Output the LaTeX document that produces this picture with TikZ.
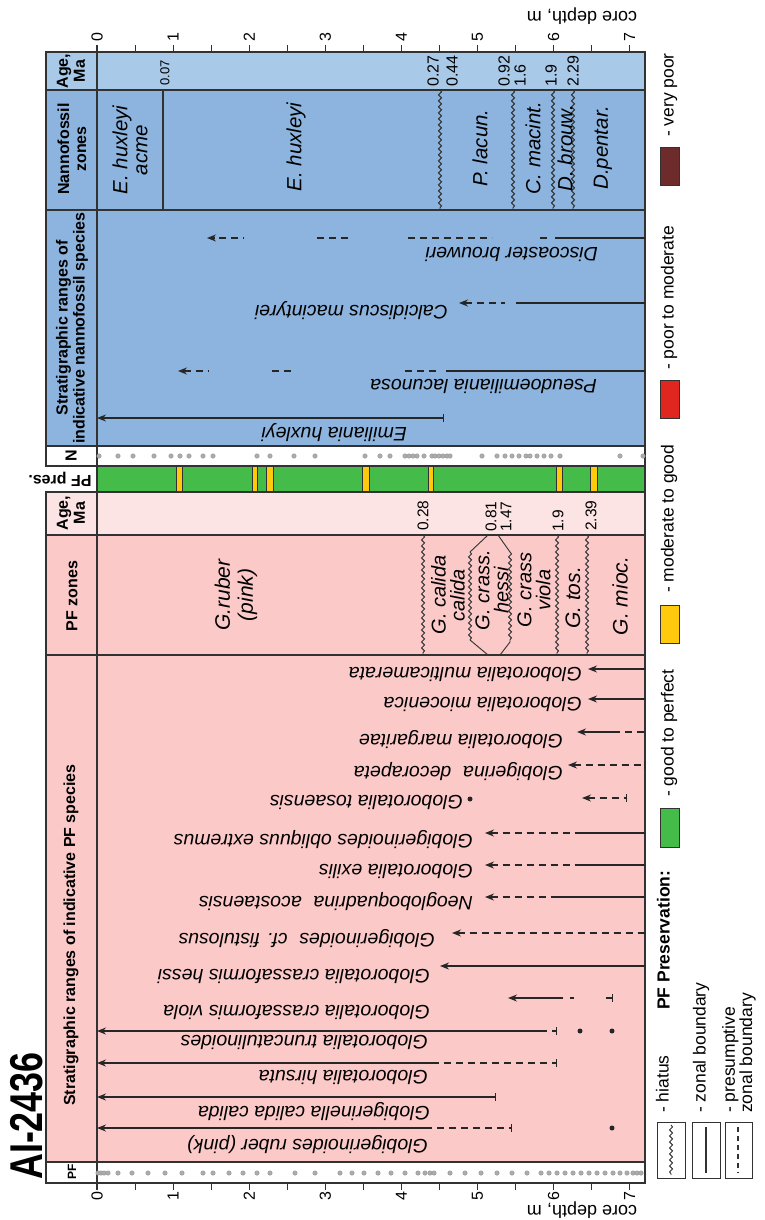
\documentclass[tikz,border=0pt]{standalone}
\usepackage{fontspec}
\setmainfont{Liberation Sans}
\usepackage{graphicx}
\usetikzlibrary{arrows.meta,decorations.pathmorphing}
\definecolor{nanAge}{RGB}{169,201,233}
\definecolor{nanZone}{RGB}{140,180,222}
\definecolor{pfAge}{RGB}{253,228,228}
\definecolor{pfZone}{RGB}{252,201,201}
\definecolor{presGood}{RGB}{69,188,74}
\definecolor{presMod}{RGB}{255,201,14}
\definecolor{presPoor}{RGB}{224,38,30}
\definecolor{presVery}{RGB}{110,43,43}
\definecolor{frame}{RGB}{50,50,50}
\begin{document}
\begin{tikzpicture}
[
x=1pt, y=-1pt,
frm/.style={draw=frame, line width=1.1pt},
rng/.style={draw=black!85, line width=1.3pt},
prs/.style={rng, dash pattern=on 7pt off 5pt},
tip/.style={{Stealth[length=9pt,width=7pt]}-},
bar/.style={-{Bar[width=8pt]}},
tipbar/.style={{Stealth[length=9pt,width=7pt]}-{Bar[width=8pt]}},
hiat/.style={draw=frame, line width=0.9pt, decorate, decoration={snake, amplitude=1.5pt, segment length=6pt}},
hdr/.style={rotate=90, align=center, inner sep=0pt, font=\bfseries\fontsize{16}{17}\selectfont},
spec/.style={rotate=180, anchor=mid west, inner sep=0pt, font=\itshape\fontsize{19.5}{20}\selectfont},
zone/.style={rotate=90, align=center, inner sep=0pt, font=\itshape\fontsize{20.5}{20}\selectfont},
age/.style={rotate=90, anchor=west, inner sep=0pt, font=\fontsize{16}{16}\selectfont},
leg/.style={rotate=90, anchor=mid west, inner sep=0pt, font=\fontsize{17.5}{15}\selectfont},
depth/.style={rotate=90, inner sep=0pt, font=\fontsize{16}{16}\selectfont},
pfdot/.style={circle, fill=gray!65, draw=gray!85, line width=0.4pt, inner sep=0pt, minimum size=4.5pt},
fdot/.style={circle, fill=black!85, inner sep=0pt, minimum size=5pt}
]
\useasboundingbox (0,0) rectangle (765,1220);

%Backgrounds
\fill[nanAge]   (46,52)  rectangle (645,90);
\fill[nanZone]  (46,90)  rectangle (645,446);
\fill[presGood] (97,466) rectangle (645,492);
\fill[pfAge]    (46,492) rectangle (645,535);
\fill[pfZone]   (46,535) rectangle (645,1162);
\foreach \a/\b in {176/182, 252/257, 266/273, 362/369, 428/433, 556/562, 590/597}
  \draw[draw=frame, line width=0.6pt, fill=presMod] (\a,466) rectangle (\b,492);

%Frame
\draw[frm] (46,52) rectangle (645,466);
\draw[frm] (46,90) -- (645,90) (46,210) -- (645,210) (46,446) -- (645,446);
\draw[frm] (97,466) rectangle (645,492);
\draw[frm] (46,492) rectangle (645,1183);
\draw[frm] (46,535) -- (645,535) (46,655) -- (645,655) (46,1162) -- (645,1162);
\draw[frm] (97,52) -- (97,1183);

%Depth axes
\foreach \i in {0,...,14} {
  \draw[frm] ({97+38.05*\i},45) -- ({97+38.05*\i},52);
  \draw[frm] ({97+38.05*\i},1183) -- ({97+38.05*\i},1190);
}
\foreach \d in {0,...,7} {
  \node[depth] (dtop\d) at ({97+76.1*\d},37)   {\d};
  \node[depth] (dbot\d) at ({97+76.1*\d},1196) {\d};
}
\node[rotate=180, font=\fontsize{18}{18}\selectfont] (cdtop) at (582,16)   {core depth, m};
\node[rotate=180, font=\fontsize{18}{18}\selectfont] (cdbot) at (582,1210) {core depth, m};

%Headers
\node[rotate=90, font=\bfseries\fontsize{46}{46}\selectfont] (title) at (27,1116) {\scalebox{0.78}[1]{AI-2436}};
\node[hdr] (hnage)  at (71,71)  {Age,\\Ma};
\node[hdr] (hnzone) at (72,149) {Nannofossil\\zones};
\node[hdr] (hnrng)  at (72,328) {Stratigraphic ranges of\\indicative nannofossil species};
\node[hdr] (hn)     at (71,456) {N};
\node[rotate=180, inner sep=0pt, font=\bfseries\fontsize{16}{16}\selectfont] (hpres) at (60,479) {PF pres.};
\node[hdr] (hpage)  at (71,513) {Age,\\Ma};
\node[hdr] (hpzone) at (72,596) {PF zones};
\node[hdr] (hprng)  at (71,935) {Stratigraphic ranges of indicative PF species};
\node[hdr, font=\bfseries\fontsize{12}{12}\selectfont] (hpf) at (72,1172) {PF};

%Dots
\foreach \x in {99,118,133,154,171,180,189,203,213,257,270,294,315,365,380,390,405,409,413,417,424,432,435,439,443,447,450,482,497,505,512,519,526,530,537,544,551,560,620,643}
  \node[pfdot] (n\x) at (\x,456) {};
\foreach \x in {98,101,104,108,118,132,148,165,182,203,213,229,243,257,270,295,315,340,352,364,378,391,405,418,425,430,434,450,465,481,497,512,527,541,549,557,565,573,581,589,597,605,613,620,627,633,637,641}
  \node[pfdot] (p\x) at (\x,1173) {};

%Nannofossil zones and ages
\draw[frm] (163,90) -- (163,210);
\draw[hiat] (440,90) -- (440,210);
\draw[hiat] (513,90) -- (513,210);
\draw[hiat] (553,90) -- (553,210);
\draw[hiat] (573,90) -- (573,210);
\node[zone] (zacme) at (130,150) {E. huxleyi\\acme};
\node[zone] (zhux)  at (296,147) {E. huxleyi};
\node[zone] (zlac)  at (480,148) {P. lacun.};
\node[zone] (zmac)  at (533,148) {C. macint.};
\node[zone] (zbro)  at (565,148) {D. brouw.};
\node[zone] (zpen)  at (603,148) {D.pentar.};
\node[age, font=\fontsize{13}{13}\selectfont] (a007) at (165,86) {0.07};
\node[age] (a027) at (433,87) {0.27};
\node[age] (a044) at (452,87) {0.44};
\node[age] (a092) at (504,87) {0.92};
\node[age] (a16)  at (520,87) {1.6};
\node[age] (a19)  at (551,87) {1.9};
\node[age] (a229) at (573,87) {2.29};

%Nannofossil ranges
\draw[rng,tip] (207,238) -- (215,238);
\draw[prs] (219,238) -- (244,238);
\draw[prs] (317,238) -- (351,238);
\draw[prs] (408,238) -- (492,238);
\draw[prs] (540,238) -- (552,238);
\draw[rng] (555,238) -- (645,238);
\node[spec] (sbro) at (598,250) {Discoaster brouweri};
\draw[prs,tip] (459,303) -- (505,303);
\draw[rng] (516,303) -- (645,303);
\node[spec] (smac) at (448,308) {Calcidiscus macintyrei};
\draw[prs,tip] (178,371) -- (208,371);
\draw[prs] (272,371) -- (292,371);
\draw[prs] (405,371) -- (440,371);
\draw[rng] (446,371) -- (645,371);
\node[spec] (slac) at (597,382) {Pseudoemiliania lacunosa};
\draw[rng,tipbar] (97,418) -- (444,418);
\node[spec] (shux) at (407,430) {Emiliania huxleyi};

%PF zones and ages
\draw[hiat] (423,535) -- (423,655);
\draw[hiat] (470,552) -- (470,640);
\draw[frm, line width=0.9pt] (488,535) -- (470,552) (470,640) -- (488,655);
\draw[hiat] (510,552) -- (510,642);
\draw[frm, line width=0.9pt] (498,535) -- (510,552) (510,642) -- (500,655);
\draw[hiat] (557,535) -- (557,655);
\draw[hiat] (587,535) -- (587,655);
\node[zone, font=\itshape\fontsize{21}{23}\selectfont] (zrub) at (236,595) {G.ruber\\(pink)};
\node[zone, font=\itshape\fontsize{20}{19}\selectfont] (zcal) at (448,595) {G. calida\\calida};
\node[zone, font=\itshape\fontsize{20}{19}\selectfont] (zhes) at (492,590) {G. crass.\\hessi};
\node[zone, font=\itshape\fontsize{20}{19}\selectfont] (zvio) at (534,590) {G. crass\\viola};
\node[zone, font=\itshape\fontsize{21}{20}\selectfont] (ztos) at (573,598) {G. tos.};
\node[zone, font=\itshape\fontsize{21}{20}\selectfont] (zmio) at (620,596) {G. mioc.};
\node[age, font=\fontsize{15.5}{15.5}\selectfont] (b028) at (423,531) {0.28};
\node[age, font=\fontsize{15.5}{15.5}\selectfont] (b081) at (491,532) {0.81};
\node[age, font=\fontsize{15.5}{15.5}\selectfont] (b147) at (506,532) {1.47};
\node[age, font=\fontsize{15.5}{15.5}\selectfont] (b19)  at (558,532) {1.9};
\node[age, font=\fontsize{15.5}{15.5}\selectfont] (b239) at (591,531) {2.39};

%PF ranges
\draw[rng,tip] (588,669) -- (645,669);
\node[spec] (smul) at (582,670) {Globorotalia multicamerata};
\draw[rng,tip] (588,699) -- (645,699);
\node[spec] (smio) at (582,700) {Globorotalia miocenica};
\draw[rng,tip] (577,732) -- (613,732);
\draw[prs] (613,732) -- (645,732);
\node[spec] (smar) at (563,737) {Globorotalia margaritae};
\draw[prs,tipbar] (568,765) -- (645,765);
\node[spec] (sdec) at (563,769) {Globigerina\hspace{0.6em}decorapeta};
\draw[prs,tipbar] (582,798) -- (627,798);
\node[fdot] (dtos) at (470,799) {};
\node[spec] (stos) at (463,798) {Globorotalia tosaensis};
\draw[prs,tip] (485,833) -- (580,833);
\draw[rng] (580,833) -- (645,833);
\node[spec] (sext) at (473,837) {Globigerinoides obliquus extremus};
\draw[prs,tip] (485,865) -- (580,865);
\draw[rng] (580,865) -- (645,865);
\node[spec] (sexi) at (473,867) {Globorotalia exilis};
\draw[prs,tip] (485,897) -- (552,897);
\draw[rng] (552,897) -- (645,897);
\node[spec] (saco) at (473,899) {Neogloboquadrina\hspace{0.6em}acostaensis};
\draw[prs,tip] (452,933) -- (645,933);
\node[spec] (sfis) at (435,936) {Globigerinoides\hspace{0.6em}cf. fistulosus};
\draw[rng,tip] (440,966) -- (645,966);
\node[spec] (shes) at (430,972) {Globorotalia crassaformis hessi};
\draw[rng,tip] (508,998) -- (563,998);
\draw[rng] (570,998) -- (574,998);
\draw[rng,bar] (606,998) -- (613,998);
\node[spec] (svio) at (430,1008) {Globorotalia crassaformis viola};
\draw[rng,tip] (97,1031) -- (540,1031);
\draw[prs,bar] (540,1031) -- (557,1031);
\node[fdot] (dtr1) at (580,1031) {};
\node[fdot] (dtr2) at (612,1031) {};
\node[spec] (stru) at (428,1038) {Globorotalia truncatulinoides};
\draw[rng,tip] (97,1063) -- (432,1063);
\draw[prs,bar] (432,1063) -- (557,1063);
\node[spec] (shir) at (428,1073) {Globorotalia hirsuta};
\draw[rng,tipbar] (97,1097) -- (496,1097);
\node[spec] (scal) at (430,1109) {Globigerinella calida calida};
\draw[rng,tip] (97,1128) -- (425,1128);
\draw[prs,bar] (425,1128) -- (512,1128);
\node[fdot] (drub) at (612,1128) {};
\node[spec] (srub) at (428,1142) {Globigerinoides ruber (pink)};

%Legend
\draw[draw=frame, line width=0.6pt, fill=presVery] (660,147) rectangle (679,185);
\node[leg] (lvery) at (671,137) {- very poor};
\draw[draw=frame, line width=0.6pt, fill=presPoor] (660,380) rectangle (679,418);
\node[leg] (lpoor) at (671,370) {- poor to moderate};
\draw[draw=frame, line width=0.6pt, fill=presMod] (660,605) rectangle (679,643);
\node[leg] (lmod) at (671,593) {- moderate to good};
\draw[draw=frame, line width=0.6pt, fill=presGood] (660,808) rectangle (679,847);
\node[leg] (lgood) at (671,797) {- good to perfect};
\node[leg, font=\bfseries\fontsize{17.5}{18}\selectfont] (lpres) at (667,1010) {PF Preservation:};
\draw[frm, line width=0.8pt] (657,1122) rectangle (685,1178);
\draw[hiat] (671,1125) -- (671,1175);
\node[leg] (lhia) at (666,1113) {- hiatus};
\draw[frm, line width=0.8pt] (692,1122) rectangle (720,1178);
\draw[frm] (706,1127) -- (706,1173);
\node[leg] (lzon) at (703,1113) {- zonal boundary};
\draw[frm, line width=0.8pt] (725,1122) rectangle (752,1178);
\draw[frm, dash pattern=on 5pt off 4pt] (738,1127) -- (738,1173);
\node[leg, anchor=west, align=left] (lpre) at (739,1113) {- presumptive\\zonal boundary};
\end{tikzpicture}
\end{document}
